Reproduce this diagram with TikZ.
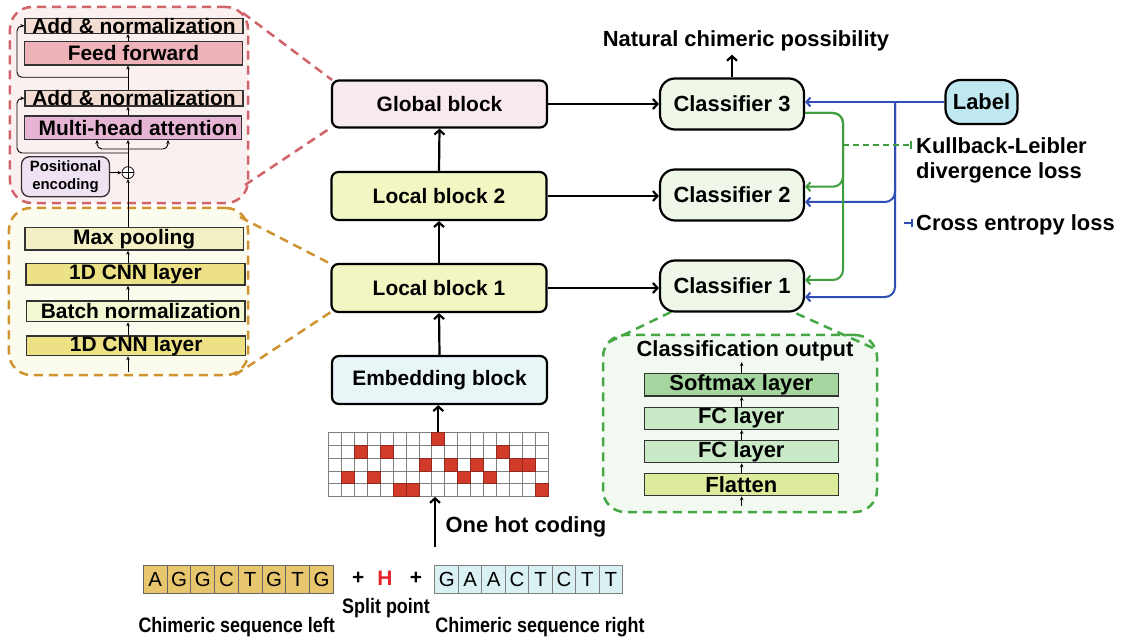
\documentclass[tikz,border=0pt]{standalone}
\usepackage{fontspec}
\setmainfont{Liberation Sans}
\usetikzlibrary{arrows.meta,calc}
\definecolor{credp}{HTML}{D0646A}
\definecolor{credf}{HTML}{FBF0F0}
\definecolor{corgp}{HTML}{CF9430}
\definecolor{corgf}{HTML}{FCFCEE}
\definecolor{cgrnp}{HTML}{45A845}
\definecolor{cgrnf}{HTML}{F1F9F1}
\definecolor{can}{HTML}{F3DDD3}
\definecolor{cff}{HTML}{EEB3B9}
\definecolor{cmha}{HTML}{E6B5D3}
\definecolor{cpe}{HTML}{EFE3F3}
\definecolor{cmp}{HTML}{F4F0C6}
\definecolor{ccnn}{HTML}{ECE184}
\definecolor{cbn}{HTML}{F2F9D2}
\definecolor{csm}{HTML}{A5D6A0}
\definecolor{cfc}{HTML}{C9E9C7}
\definecolor{cfl}{HTML}{DCEB9B}
\definecolor{cglob}{HTML}{F8E9EC}
\definecolor{cloc}{HTML}{F2F6C2}
\definecolor{cemb}{HTML}{E9F6F8}
\definecolor{clsfill}{HTML}{EEF7E8}
\definecolor{clab}{HTML}{BFE8F0}
\definecolor{cblue}{HTML}{2F4FB5}
\definecolor{cgreen}{HTML}{3E9E3E}
\definecolor{chot}{HTML}{D23A2A}
\definecolor{cH}{HTML}{E8242A}
\definecolor{cseqL}{HTML}{E8C66E}
\definecolor{cseqR}{HTML}{D9F1F3}
\newcommand{\narrow}[1]{\scalebox{0.857}[1]{#1}}
\begin{document}
\begin{tikzpicture}[x=1bp,y=-1bp,
  lbl/.style={font=\bfseries\fontsize{21}{24}\selectfont},
  lblb/.style={font=\bfseries\fontsize{22}{25}\selectfont},
  blk/.style={draw, line width=2.2bp, rounded corners=7bp, minimum width=215bp, minimum height=47bp, lbl},
  clsbox/.style={blk, lblb, rounded corners=15bp, minimum width=144bp, minimum height=51bp, fill=clsfill},
  lay/.style={draw=black!80, line width=1.3bp, inner sep=0pt, lbl},
  layg/.style={lay, lblb},
  tarr/.style={line width=0.9bp, -{Stealth[length=4bp,width=3.5bp]}},
  marr/.style={line width=2.2bp, -{Straight Barb[length=4.5bp,width=10bp]}},
  barr/.style={draw=cblue, line width=2bp, -{Straight Barb[length=4bp,width=9bp]}, rounded corners=10bp},
  garr/.style={draw=cgreen, line width=2bp, -{Straight Barb[length=4bp,width=9bp]}, rounded corners=10bp},
  panel/.style={dash pattern=on 9bp off 6bp, line width=2.5bp, rounded corners=22bp},
  zl/.style={line width=2.5bp, dash pattern=on 9bp off 6bp},
  seqc/.style={draw=black!60, line width=1bp, minimum height=28.3bp, inner sep=0pt, font=\fontsize{20.5}{24}\selectfont}
]
\useasboundingbox (0,0) rectangle (1123,644);
\fill[white] (0,0) rectangle (1123,644);

% panels
\node[panel, draw=credp, fill=credf, minimum width=238bp, minimum height=196bp] (tpanel) at (129,105) {};
\node[panel, draw=corgp, fill=corgf, minimum width=239bp, minimum height=167bp] (lpanel) at (128.5,291.5) {};
\node[panel, draw=cgrnp, fill=cgrnf, minimum width=274bp, minimum height=177bp] (cpanel) at (740,423.5) {};

% zoom lines
\coordinate (zr1) at (243,13);
\coordinate (zr2) at (245,185);
\coordinate (zo1) at (240,217);
\coordinate (zo2) at (235,375);
\coordinate (zg1) at (609,342);
\coordinate (zg2) at (873,348);
\coordinate (gnw) at (332,80);
\coordinate (gsw) at (332,127);
\coordinate (lnw) at (331,264);
\coordinate (lsw) at (331,312);
\coordinate (c1sw) at (672,311.5);
\coordinate (c1se) at (792,311.5);
\draw[zl, draw=credp] (zr1) -- (gnw);
\draw[zl, draw=credp] (zr2) -- (gsw);
\draw[zl, draw=corgp] (zo1) -- (lnw);
\draw[zl, draw=corgp] (zo2) -- (lsw);
\draw[zl, draw=cgrnp] (zg1) -- (c1sw);
\draw[zl, draw=cgrnp] (zg2) -- (c1se);

% main blocks
\node[blk, fill=cglob] (glob) at (439.5,104) {Global block};
\node[blk, fill=cloc, minimum height=48bp] (loc2) at (439,196) {Local block 2};
\node[blk, fill=cloc, minimum height=48bp] (loc1) at (439,288) {Local block 1};
\node[blk, fill=cemb, minimum height=48bp] (emb) at (439.5,380) {Embedding block};

% classifiers
\node[clsbox] (cls3) at (732,104) {Classifier 3};
\node[clsbox] (cls2) at (732,195) {Classifier 2};
\node[clsbox] (cls1) at (732,286) {Classifier 1};

\node[lblb] (ncp) at (746,41) {Natural chimeric possibility};
\node[blk, lblb, fill=clab, rounded corners=15bp, minimum width=72bp, minimum height=44bp] (label) at (981.5,102) {Label};

% main arrows
\draw[marr] (emb.north) -- (loc1.south);
\draw[marr] (loc1.north) -- (loc2.south);
\draw[marr] (loc2.north) -- (glob.south);
\draw[marr] (glob.east) -- (glob.east -| cls3.west);
\draw[marr] (loc2.east) -- (loc2.east -| cls2.west);
\draw[marr] (loc1.east) -- (loc1.east -| cls1.west);
\draw[marr] (cls3.north) -- (cls3.north |- ncp.south);

% blue connectors
\coordinate (bxt) at (895,102);
\coordinate (bx2) at (895,202);
\coordinate (bx1) at (895,297);
\draw[barr] (label.west) -- (label.west -| cls3.east);
\draw[barr] (bxt) -- (bx2) -- ($(cls2.east)+(0,7)$);
\draw[barr] (bxt) -- (bx1) -- ($(cls1.east)+(0,11)$);

% green connectors
\coordinate (gt) at (843,113);
\coordinate (g2) at (843,186.7);
\coordinate (g1) at (843,280);
\draw[garr] ($(cls3.east)+(0,9)$) -- (gt) -- (g2) -- ($(cls2.east)+(0,-8.3)$);
\draw[garr] ($(cls3.east)+(0,9)$) -- (gt) -- (g1) -- ($(cls1.east)+(0,-6)$);

% legend
\coordinate (gd) at (843,145);
\coordinate (kle) at (912,145);
\draw[cgreen, line width=2bp, dash pattern=on 6bp off 4bp, -{Bar[width=8bp]}] (gd) -- (kle);
\node[lblb, anchor=base west, inner sep=0pt] (kl1) at (916,153.5) {Kullback-Leibler};
\node[lblb, anchor=base west, inner sep=0pt] (kl2) at (916,179) {divergence loss};
\coordinate (ce0) at (904,223.5);
\coordinate (ce1) at (913,223.5);
\draw[cblue, line width=2bp, -{Bar[width=8bp]}] (ce0) -- (ce1);
\node[lblb, anchor=base west, inner sep=0pt] (cel) at (916,230.5) {Cross entropy loss};

% transformer panel contents
\coordinate (mx) at (128,0);
\node[lay, fill=can, minimum width=218bp, minimum height=15bp, text height=14.5bp, text depth=0pt] (an1) at (134,25.8) {Add \& normalization};
\node[lay, fill=cff, minimum width=218.4bp, minimum height=23.3bp] (ff) at (133.5,53.3) {Feed forward};
\node[lay, fill=can, minimum width=218bp, minimum height=15.3bp, text height=14.5bp, text depth=0pt] (an2) at (134,98.3) {Add \& normalization};
\node[lay, fill=cmha, minimum width=217bp, minimum height=23.3bp] (mha) at (133,127.7) {\hspace*{10bp}Multi-head attention};
\node[draw=black!80, line width=1.3bp, rounded corners=8bp, fill=cpe, minimum width=88bp, minimum height=40bp, inner sep=0pt, align=center, font=\bfseries\fontsize{15}{19}\selectfont] (pe) at (65.5,176.7) {Positional\\encoding};
\node[circle, draw=black!85, line width=0.9bp, minimum size=12bp, inner sep=0pt, fill=white] (oplus) at (128,172.7) {};
\draw[line width=0.9bp] (oplus.north) -- (oplus.south) (oplus.west) -- (oplus.east);

\coordinate (b1) at (128,149);
\coordinate (b1l) at (97,149);
\coordinate (b1r) at (168,149);
\draw[tarr, rounded corners=5bp] (b1) -- (b1l) -- (mha.south -| b1l);
\draw[tarr, rounded corners=5bp] (b1) -- (b1r) -- (mha.south -| b1r);
\coordinate (r1a) at (128,153);
\coordinate (r1b) at (17,153);
\coordinate (r1c) at (17,98.3);
\draw[tarr, rounded corners=5bp] (r1a) -- (r1b) -- (r1c) -- (an2.west);
\coordinate (r2a) at (128,77.3);
\coordinate (r2b) at (17,77.3);
\coordinate (r2c) at (17,25.8);
\draw[tarr, rounded corners=5bp] (r2a) -- (r2b) -- (r2c) -- (an1.west);
\draw[tarr] (oplus.north) -- (mha.south -| oplus);
\draw[tarr] (mha.north -| mx) -- (an2.south -| mx);
\draw[tarr] (an2.north -| mx) -- (ff.south -| mx);
\draw[tarr] (ff.north -| mx) -- (an1.south -| mx);
\draw[tarr] (pe.east |- oplus) -- (oplus.west);

% local panel contents
\node[lay, fill=cmp, minimum width=218.3bp, minimum height=22.7bp] (mp) at (134.2,238.7) {Max pooling};
\node[lay, fill=ccnn, minimum width=219bp, minimum height=21.7bp] (cnnA) at (135.5,274.2) {1D CNN layer};
\node[lay, fill=cbn, minimum width=218.3bp, minimum height=20.7bp] (bn) at (135.8,311.3) {\hspace*{10bp}Batch normalization};
\node[lay, fill=ccnn, minimum width=219bp, minimum height=19.7bp] (cnnB) at (136.2,345.8) {1D CNN layer};
\coordinate (ob) at (128,372);
\draw[tarr] (ob) -- (cnnB.south -| mx);
\draw[tarr] (cnnB.north -| mx) -- (bn.south -| mx);
\draw[tarr] (bn.north -| mx) -- (cnnA.south -| mx);
\draw[tarr] (cnnA.north -| mx) -- (mp.south -| mx);
\draw[tarr] (mp.north -| mx) -- (oplus.south);

% classification panel contents
\node[lblb, inner sep=1bp] (co) at (745,350.7) {Classification output};
\node[layg, fill=csm, minimum width=194bp, minimum height=22.7bp] (sm) at (741.3,384.7) {Softmax layer};
\node[layg, fill=cfc, minimum width=194bp, minimum height=22bp] (fc1) at (741.3,418.3) {FC layer};
\node[layg, fill=cfc, minimum width=194bp, minimum height=22bp] (fc2) at (741.3,451.7) {FC layer};
\node[layg, fill=cfl, minimum width=194bp, minimum height=22.4bp] (fl) at (741.3,484.5) {Flatten};
\coordinate (gxm) at (741.7,0);
\coordinate (gb) at (741.7,506);
\draw[tarr] (gb) -- (fl.south -| gxm);
\draw[tarr] (fl.north -| gxm) -- (fc2.south -| gxm);
\draw[tarr] (fc2.north -| gxm) -- (fc1.south -| gxm);
\draw[tarr] (fc1.north -| gxm) -- (sm.south -| gxm);
\draw[tarr] (sm.north -| gxm) -- (co.south -| gxm);

% one-hot grid
\node[minimum width=220bp, minimum height=64.4bp, inner sep=0pt] (grid) at (438.3,464.5) {};
\foreach \i in {0,...,16} {
  \foreach \j in {0,...,4} {
    \draw[black!50, line width=0.7bp] (328.3+\i*12.94, 432.3+\j*12.88) rectangle ++(12.94,12.88);
  }
}
\foreach \i/\j in {8/0,2/1,4/1,13/1,7/2,9/2,11/2,14/2,15/2,1/3,3/3,10/3,12/3,5/4,6/4,16/4} {
  \filldraw[fill=chot, draw=chot!70!black, line width=0.7bp] (328.3+\i*12.94, 432.3+\j*12.88) rectangle ++(12.94,12.88);
}
\draw[marr] (grid.north) -- (grid.north |- emb.south);
\coordinate (ohs) at (435,547);
\draw[marr] (ohs) -- (grid.south -| ohs);
\node[lblb] (oh) at (526,527.3) {One hot coding};

% sequences
\foreach \l [count=\k from 0] in {A,G,G,C,T,G,T,G} {
  \node[seqc, fill=cseqL, minimum width=23.75bp] at (155.2+\k*23.75,579.2) {\l};
}
\foreach \l [count=\k from 0] in {G,A,A,C,T,C,T,T} {
  \node[seqc, fill=cseqR, draw=black!50, minimum width=23.46bp] at (446.7+\k*23.46,579.5) {\l};
}
\node[lbl] (plus1) at (358.3,578) {+};
\node[lbl, text=cH] (hh) at (385,578) {H};
\node[lbl] (plus2) at (416,578) {+};
\node[lbl] (split) at (386,608) {\narrow{Split point}};
\node[lbl] (chl) at (236.7,627.3) {\narrow{Chimeric sequence left}};
\node[lbl] (chr) at (540,627.3) {\narrow{Chimeric sequence right}};
\end{tikzpicture}
\end{document}
